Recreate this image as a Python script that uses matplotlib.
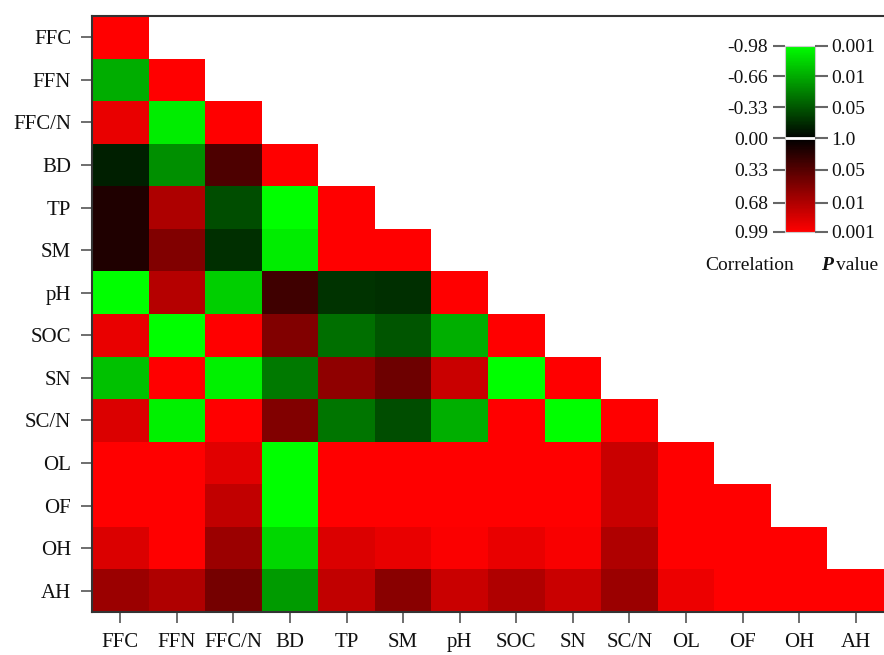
import numpy as np
import matplotlib
matplotlib.use("Agg")
import matplotlib.pyplot as plt
from matplotlib.colors import LinearSegmentedColormap, Normalize

plt.rcParams["font.family"] = ["Liberation Serif", "DejaVu Serif"]

variables = ["FFC", "FFN", "FFC/N", "BD", "TP", "SM", "pH",
             "SOC", "SN", "SC/N", "OL", "OF", "OH", "AH"]

# lower triangle of the correlation matrix, one row per variable
corr_rows = [
    [1.00],
    [-0.67, 1.00],
    [0.90, -0.92, 1.00],
    [-0.12, -0.55, 0.30, 1.00],
    [0.12, 0.67, -0.30, -0.99, 1.00],
    [0.12, 0.50, -0.18, -0.92, 0.99, 1.00],
    [-0.99, 0.70, -0.80, 0.24, -0.20, -0.18, 1.00],
    [0.90, -0.99, 0.99, 0.50, -0.43, -0.33, -0.68, 1.00],
    [-0.75, 0.99, -0.93, -0.47, 0.55, 0.42, 0.78, -0.99, 1.00],
    [0.85, -0.93, 0.99, 0.50, -0.45, -0.30, -0.68, 0.99, -0.99, 1.00],
    [0.99, 0.99, 0.87, -0.99, 0.99, 0.99, 0.99, 0.99, 0.99, 0.78, 1.00],
    [0.99, 0.99, 0.75, -0.99, 0.99, 0.99, 0.99, 0.99, 0.99, 0.78, 0.99, 1.00],
    [0.85, 0.99, 0.60, -0.83, 0.85, 0.90, 0.97, 0.90, 0.96, 0.68, 0.99, 0.99, 1.00],
    [0.60, 0.68, 0.45, -0.60, 0.75, 0.53, 0.78, 0.68, 0.78, 0.60, 0.92, 0.99, 0.99, 1.00],
]

cbar_ticks = [-0.98, -0.66, -0.33, 0.00, 0.33, 0.68, 0.99]
cbar_labels = ["-0.98", "-0.66", "-0.33", "0.00", "0.33", "0.68", "0.99"]
p_labels = ["0.001", "0.01", "0.05", "1.0", "0.05", "0.01", "0.001"]

n = len(variables)
mat = np.full((n, n), np.nan)
for i, row in enumerate(corr_rows):
    mat[i, :len(row)] = row
mat = np.ma.masked_invalid(mat)

cmap = LinearSegmentedColormap.from_list(
    "gkr", [(0, (0, 1, 0)), (0.5, (0, 0, 0)), (1, (1, 0, 0))])
cmap.set_bad("white")
norm = Normalize(vmin=-0.99, vmax=0.99)

fig = plt.figure(figsize=(8.84, 6.55), dpi=100)
ax = fig.add_axes([0.104, 0.0656, 0.896, 0.910])
ax.pcolormesh(np.arange(n + 1), np.arange(n + 1), mat, cmap=cmap, norm=norm)
ax.set_xlim(0, n)
ax.set_ylim(n, 0)

ax.set_xticks(np.arange(n) + 0.5)
ax.set_xticklabels(variables, fontsize=15)
ax.set_yticks(np.arange(n) + 0.5)
ax.set_yticklabels(variables, fontsize=15)
ax.tick_params(length=8, width=1.2, color="#555555", pad=7, labelcolor="#111111")
for side in ["left", "top", "bottom"]:
    ax.spines[side].set_color("#333333")
    ax.spines[side].set_linewidth(1.5)
ax.spines["right"].set_visible(False)

# colour key: correlation on the left, p value on the right
cax = fig.add_axes([0.888, 0.646, 0.034, 0.284])
grad = np.linspace(-0.98, 0.99, 300)
cax.pcolormesh([0, 1], grad, grad[:-1, None], cmap=cmap, norm=norm)
cax.axhline(0, color="white", lw=2)
cax.set_xlim(0, 1)
cax.set_ylim(0.99, -0.98)
cax.set_xticks([])
cax.set_yticks(cbar_ticks)
cax.set_yticklabels(cbar_labels, fontsize=14)
cax.tick_params(axis="y", length=9, width=1.5, color="#666666", pad=3,
                labelcolor="#111111")
for s in cax.spines.values():
    s.set_color("#cccccc")
    s.set_linewidth(0.8)

tw = cax.twinx()
tw.set_ylim(0.99, -0.98)
tw.set_yticks(cbar_ticks)
tw.set_yticklabels(p_labels, fontsize=14)
tw.tick_params(axis="y", length=9, width=1.5, color="#666666", pad=3,
               labelcolor="#111111")
for s in tw.spines.values():
    s.set_visible(False)

fig.text(0.848, 0.594, "Correlation", fontsize=14, ha="center", va="center",
         color="#111111")
fig.text(0.929, 0.594, "P", fontsize=14, ha="left", va="center",
         style="italic", weight="bold", color="#111111")
fig.text(0.946, 0.594, "value", fontsize=14, ha="left", va="center",
         color="#111111")

fig.savefig("out.png", dpi=100)
